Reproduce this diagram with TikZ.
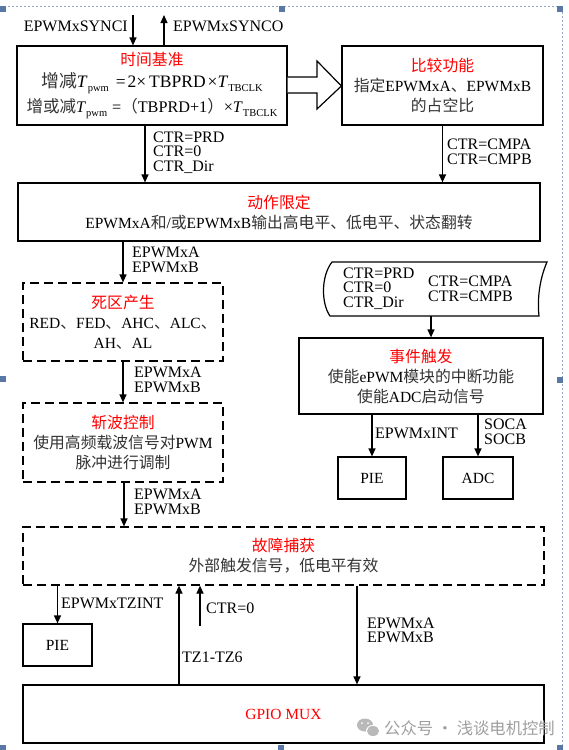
\documentclass[tikz,border=0pt]{standalone}
\usepackage{fontspec}
\setmainfont{Liberation Serif}
\newfontfamily\cjk[Scale=1.02]{Noto Sans CJK SC}
\usetikzlibrary{arrows.meta,calc}
\newcommand\zh[1]{{\cjk\color{black!80}#1}}
\newcommand\zht[1]{{\cjk\color{red}#1}}
\newcommand\subs[1]{\raisebox{-4pt}{\fontsize{10.5}{10.5}\selectfont #1}}
\newcommand\eqfont{\fontsize{17.5}{20}\selectfont}
\newcommand\eqfontb{\fontsize{16.2}{20}\selectfont}
\definecolor{framec}{HTML}{8FA6C9}
\definecolor{squarec}{HTML}{5A78A6}
\tikzset{
 blk/.style={draw=black, line width=1.2pt, rectangle, inner sep=0pt, align=center, font=\fontsize{15.5}{20}\selectfont},
 dbox/.style={blk, dash pattern=on 9pt off 5pt},
 lbl/.style={inner sep=0pt, align=left, anchor=west, font=\fontsize{16}{14.5}\selectfont},
 arr/.style={line width=1.2pt, -{Triangle[length=8pt,width=7pt]}},
 sq/.style={fill=squarec, minimum size=6pt, inner sep=0pt},
}
\begin{document}
\begin{tikzpicture}[x=1pt,y=-1pt]
\useasboundingbox[fill=white] (0,0) rectangle (569,750);
% selection frame
\draw[framec, line width=0.8pt, dash pattern=on 2pt off 2pt] (0,6) -- (562,6) -- (562,750);
\node[sq] (s1) at (3,9) {};
\node[sq] (s2) at (282,9) {};
\node[sq] (s3) at (560,9) {};
\node[sq] (s4) at (3,379) {};
\node[sq] (s5) at (560,380) {};
\node[sq] (s6) at (3,748) {};
\node[sq] (s7) at (281,748) {};
\node[sq] (s8) at (560,748) {};

% boxes
\node[blk, minimum width=270pt, minimum height=79pt] (tb) at (152,85.5)
 {\zht{时间基准}\\[2pt]
  {\eqfont\zh{增减}\textit{T}\subs{pwm}\hspace{7pt}=\hspace{2pt}2×\hspace{3pt}TBPRD\hspace{2pt}×\textit{T}\subs{TBCLK}}\\[3pt]
  {\eqfontb\zh{增或减}\textit{T}\subs{pwm}\hspace{5pt}=\zh{（}TBPRD+1\zh{）}×\textit{T}\subs{TBCLK}}};
\node[blk, minimum width=201pt, minimum height=79pt] (cmp) at (442.5,85.5)
 {\zht{比较功能}\\ \zh{指定}EPWMxA\zh{、}EPWMxB\\ \zh{的占空比}};
\node[blk, minimum width=522pt, minimum height=58pt] (act) at (279,212)
 {\zht{动作限定}\\ EPWMxA\zh{和}/\zh{或}EPWMxB\zh{输出高电平、低电平、状态翻转}};
\node[dbox, minimum width=200pt, minimum height=78pt] (dead) at (123,322)
 {\zht{死区产生}\\ RED\zh{、}FED\zh{、}AHC\zh{、}ALC\zh{、}\\ AH\zh{、}AL};
\node[dbox, minimum width=200pt, minimum height=79pt] (chop) at (123,442.5)
 {\zht{斩波控制}\\ \zh{使用高频载波信号对}PWM\\ \zh{脉冲进行调制}};
\node[inner sep=0pt, minimum width=222pt, minimum height=54pt] (tape) at (436,289) {};
\draw[line width=1.2pt] (332,262) -- (547,262) .. controls (540,278) and (537,298) .. (539,316)
  -- (330,316) .. controls (321,303) and (321,276) .. (332,262) -- cycle;
\node[blk, minimum width=244pt, minimum height=76pt] (ev) at (421,376)
 {\zht{事件触发}\\ \zh{使能}ePWM\zh{模块的中断功能}\\ \zh{使能}ADC\zh{启动信号}};
\node[blk, minimum width=68pt, minimum height=42pt] (pie1) at (372,478) {PIE};
\node[blk, minimum width=70pt, minimum height=42pt] (adc) at (478,478) {ADC};
\node[dbox, minimum width=521pt, minimum height=58pt] (trip) at (283.5,556)
 {\zht{故障捕获}\\ \zh{外部触发信号，低电平有效}};
\node[blk, minimum width=69pt, minimum height=42pt] (pie2) at (57.5,645) {PIE};
\node[blk, minimum width=521pt, minimum height=58pt] (gpio) at (283.5,714) {\color{red}GPIO MUX};

% block arrow
\draw[line width=1.2pt, fill=white] (tb.east |- 0,77) -- (317,77) -- (317,61) -- (cmp.west |- 0,86) -- (317,109) -- (317,93) -- (tb.east |- 0,93);

% connectors
\coordinate (synci) at (133,15);
\coordinate (synco) at (164,15);
\draw[arr] (synci) -- (synci |- tb.north);
\draw[arr] (synco |- tb.north) -- (synco);
\draw[arr] ([xshift=-7pt]tb.south) -- ([xshift=-7pt]tb.south |- act.north);
\draw[arr] (cmp.south) -- (cmp.south |- act.north);
\draw[arr] (dead.north |- act.south) -- (dead.north);
\draw[arr] (dead.south) -- (chop.north);
\draw[arr] ([xshift=1pt]chop.south) -- ([xshift=1pt]chop.south |- trip.north);
\draw[arr] ([xshift=10pt]ev.north |- tape.south) -- ([xshift=10pt]ev.north);
\draw[arr] (pie1.north |- ev.south) -- (pie1.north);
\draw[arr] (adc.north |- ev.south) -- (adc.north);
\draw[arr] (pie2.north |- trip.south) -- (pie2.north);
\coordinate (tzx) at (179,700);
\coordinate (ctrz) at (200,626);
\coordinate (outx) at (357,600);
\draw[arr] (tzx |- gpio.north) -- (tzx |- trip.south);
\draw[arr] (ctrz) -- (ctrz |- trip.south);
\draw[arr] (outx |- trip.south) -- (outx |- gpio.north);

% labels
\node[lbl, anchor=east] (lsynci) at (128,26) {EPWMxSYNCI};
\node[lbl] (lsynco) at (173,26) {EPWMxSYNCO};
\node[lbl] (l1) at (153,152.5) {CTR=PRD\\CTR=0\\CTR\_Dir};
\node[lbl] (l2) at (447,152) {CTR=CMPA\\CTR=CMPB};
\node[lbl] (l3) at (132,260) {EPWMxA\\EPWMxB};
\node[lbl] (l4) at (134,380) {EPWMxA\\EPWMxB};
\node[lbl] (l5) at (134,502) {EPWMxA\\EPWMxB};
\node[lbl] (t1) at (343,288.5) {CTR=PRD\\CTR=0\\CTR\_Dir};
\node[lbl] (t2) at (428,289) {CTR=CMPA\\CTR=CMPB};
\node[lbl] (l6) at (375,433) {EPWMxINT};
\node[lbl] (l7) at (484,432) {SOCA\\SOCB};
\node[lbl] (l8) at (61,603) {EPWMxTZINT};
\node[lbl] (l9) at (206,608) {CTR=0};
\node[lbl] (l10) at (182,657) {TZ1-TZ6};
\node[lbl] (l11) at (367,630.5) {EPWMxA\\EPWMxB};

% watermark
\fill[gray!55] (365,725) ellipse (8 and 6.5);
\fill[white] (373,731) ellipse (7 and 6);
\fill[gray!55] (373,731) ellipse (6 and 5);
\fill[white] (362,723) circle (1);
\fill[white] (368,723) circle (1);
\node[anchor=west, inner sep=0pt, text=gray!75, font=\fontsize{16}{16}\selectfont] (wm) at (384,728) {\cjk 公众号 · 浅谈电机控制};
\end{tikzpicture}
\end{document}
